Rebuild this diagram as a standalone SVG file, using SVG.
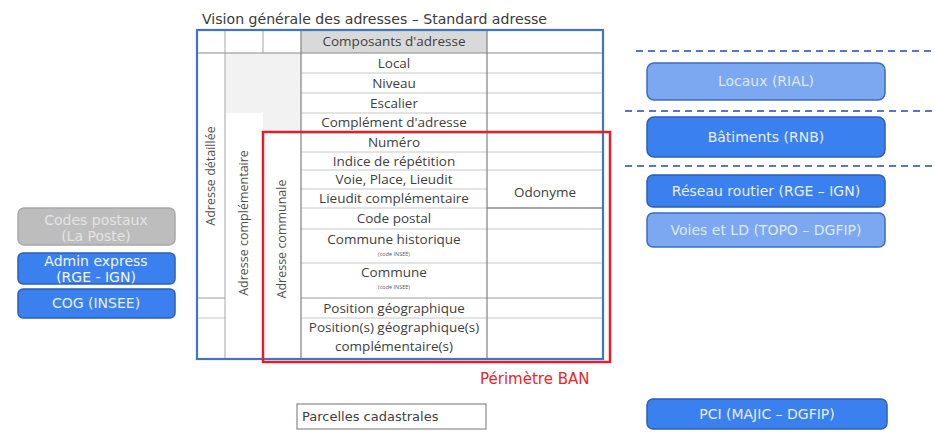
<svg xmlns="http://www.w3.org/2000/svg" width="935" height="439" viewBox="0 0 935 439">
  <style>
    .cell { font-family: "Open Sans", "Liberation Sans", sans-serif; font-size: 13.5px; fill: #404040; text-anchor: middle; }
    .tiny { font-family: "Open Sans", "Liberation Sans", sans-serif; font-size: 5.5px; fill: #595959; text-anchor: middle; }
    .vert { font-family: "Open Sans", "Liberation Sans", sans-serif; font-size: 12.5px; fill: #505050; text-anchor: middle; }
    .lbl { font-family: "DejaVu Sans", "Liberation Sans", sans-serif; font-size: 14px; text-anchor: middle; }
    .row { stroke: #c8c8c8; stroke-width: 1; }
    .col { stroke: #808080; stroke-width: 1.2; }
    .dash { stroke: #5577c9; stroke-width: 2; stroke-dasharray: 7 5; fill: none; }
    .box-dark { fill: #3b80ef; stroke: #2d5fb5; stroke-width: 1.5; }
    .box-light { fill: #7ba8f0; stroke: #3f6cc0; stroke-width: 1.5; }
    .box-gray { fill: #bdbdbd; stroke: #a8a8a8; stroke-width: 1.5; }
  </style>

  <rect width="935" height="439" fill="#ffffff"/>

  <!-- title -->
  <text x="202" y="24" font-family="DejaVu Sans, Liberation Sans, sans-serif" font-size="14" fill="#3a3a3a" textLength="345" lengthAdjust="spacingAndGlyphs">Vision générale des adresses – Standard adresse</text>

  <!-- address components table -->
  <g id="table">
    <rect x="301" y="30" width="186" height="23" fill="#d9d9d9"/>
    <rect x="225" y="53" width="38" height="60" fill="#f2f2f2"/>
    <rect x="263" y="53" width="38" height="80" fill="#f2f2f2"/>

    <!-- row separators -->
    <g class="row">
      <line x1="301" y1="73" x2="602" y2="73"/>
      <line x1="301" y1="93" x2="602" y2="93"/>
      <line x1="301" y1="113" x2="602" y2="113"/>
      <line x1="301" y1="133" x2="602" y2="133"/>
      <line x1="301" y1="152" x2="602" y2="152"/>
      <line x1="301" y1="170" x2="602" y2="170"/>
      <line x1="301" y1="189" x2="487" y2="189"/>
      <line x1="301" y1="208" x2="487" y2="208"/>
      <line x1="301" y1="229" x2="602" y2="229"/>
      <line x1="301" y1="263" x2="602" y2="263"/>
      <line x1="301" y1="318" x2="602" y2="318"/>
      <line x1="197" y1="318" x2="225" y2="318"/>
    </g>
    <line x1="487" y1="208" x2="602" y2="208" stroke="#a6a6a6" stroke-width="1.8"/>
    <line x1="301" y1="298" x2="602" y2="298" stroke="#a0a0a0" stroke-width="1"/>
    <line x1="197" y1="298" x2="225" y2="298" stroke="#a0a0a0" stroke-width="1"/>
    <line x1="197" y1="53" x2="602" y2="53" stroke="#8a8a8a" stroke-width="1.2"/>

    <!-- column separators -->
    <line x1="225" y1="30" x2="225" y2="358" stroke="#a6a6a6" stroke-width="1"/>
    <line x1="263" y1="30" x2="263" y2="53" stroke="#a6a6a6" stroke-width="1"/>
    <line class="col" x1="301" y1="30" x2="301" y2="358"/>
    <line class="col" x1="487" y1="30" x2="487" y2="358"/>

    <!-- component labels -->
    <text class="cell" x="394" y="46">Composants d'adresse</text>
    <text class="cell" x="394" y="68">Local</text>
    <text class="cell" x="394" y="88">Niveau</text>
    <text class="cell" x="394" y="108">Escalier</text>
    <text class="cell" x="394" y="127">Complément d'adresse</text>
    <text class="cell" x="394" y="147">Numéro</text>
    <text class="cell" x="394" y="166">Indice de répétition</text>
    <text class="cell" x="394" y="184">Voie, Place, Lieudit</text>
    <text class="cell" x="394" y="203">Lieudit complémentaire</text>
    <text class="cell" x="394" y="223">Code postal</text>
    <text class="cell" x="394" y="244">Commune historique</text>
    <text class="tiny" x="394" y="256">(code INSEE)</text>
    <text class="cell" x="394" y="277">Commune</text>
    <text class="tiny" x="394" y="289">(code INSEE)</text>
    <text class="cell" x="394" y="313">Position géographique</text>
    <text class="cell" x="394" y="332">Position(s) géographique(s)</text>
    <text class="cell" x="394" y="351">complémentaire(s)</text>
    <text class="cell" x="545" y="197">Odonyme</text>

    <!-- grouping labels -->
    <text class="vert" transform="translate(215 176) rotate(-90)">Adresse détaillée</text>
    <text class="vert" transform="translate(248 223) rotate(-90)">Adresse complémentaire</text>
    <text class="vert" transform="translate(286 239) rotate(-90)">Adresse communale</text>
  </g>

  <!-- standard and BAN perimeters -->
  <g id="standard-adresse">
    <rect x="197" y="30" width="406" height="329" fill="none" stroke="#4472c4" stroke-width="2.2"/>
  </g>
  <g id="perimetre-ban">
    <rect x="263" y="132" width="347" height="230" fill="none" stroke="#e3202a" stroke-width="2.5"/>
    <text x="480" y="384" font-family="DejaVu Sans, Liberation Sans, sans-serif" font-size="15" fill="#e8262b">Périmètre BAN</text>
  </g>

  <!-- level separators -->
  <g id="connectors">
    <line class="dash" x1="636" y1="51" x2="932" y2="51"/>
    <line class="dash" x1="625" y1="111" x2="932" y2="111"/>
    <line class="dash" x1="625" y1="166" x2="932" y2="166"/>
  </g>

  <!-- source datasets, left -->
  <g id="codes-postaux">
    <rect class="box-gray" x="18" y="208" width="157" height="37" rx="6"/>
    <text class="lbl" x="96" y="225" fill="#e4e4e4">Codes postaux</text>
    <text class="lbl" x="96" y="241" fill="#e4e4e4">(La Poste)</text>
  </g>
  <g id="admin-express">
    <rect class="box-dark" x="18" y="253" width="157" height="31" rx="5"/>
    <text class="lbl" x="96" y="266" fill="#f2f6fe">Admin express</text>
    <text class="lbl" x="96" y="282" fill="#f2f6fe">(RGE - IGN)</text>
  </g>
  <g id="cog-insee">
    <rect class="box-dark" x="18" y="289" width="157" height="29" rx="5"/>
    <text class="lbl" x="96" y="308" fill="#e8effd">COG (INSEE)</text>
  </g>

  <!-- source datasets, right -->
  <g id="locaux-rial">
    <rect class="box-light" x="647" y="63" width="238" height="37" rx="7"/>
    <text class="lbl" x="766" y="86" fill="#dfe9fb">Locaux (RIAL)</text>
  </g>
  <g id="batiments-rnb">
    <rect class="box-dark" x="647" y="117" width="238" height="40" rx="7"/>
    <text class="lbl" x="766" y="142" fill="#e8effd">Bâtiments (RNB)</text>
  </g>
  <g id="reseau-routier">
    <rect class="box-dark" x="647" y="175" width="238" height="32" rx="6"/>
    <text class="lbl" x="766" y="196" fill="#e8effd">Réseau routier (RGE – IGN)</text>
  </g>
  <g id="voies-ld">
    <rect class="box-light" x="647" y="213" width="238" height="34" rx="6"/>
    <text class="lbl" x="766" y="235" fill="#dfe9fb">Voies et LD (TOPO – DGFIP)</text>
  </g>
  <g id="pci">
    <rect class="box-dark" x="647" y="399" width="240" height="30" rx="6"/>
    <text class="lbl" x="767" y="419" fill="#e8effd" font-size="15">PCI (MAJIC – DGFIP)</text>
  </g>

  <g id="parcelles">
    <rect x="297" y="404" width="189" height="25" fill="#ffffff" stroke="#8a8a8a" stroke-width="1.2"/>
    <text x="302" y="421" font-family="DejaVu Sans, Liberation Sans, sans-serif" font-size="13" fill="#404040">Parcelles cadastrales</text>
  </g>
</svg>
